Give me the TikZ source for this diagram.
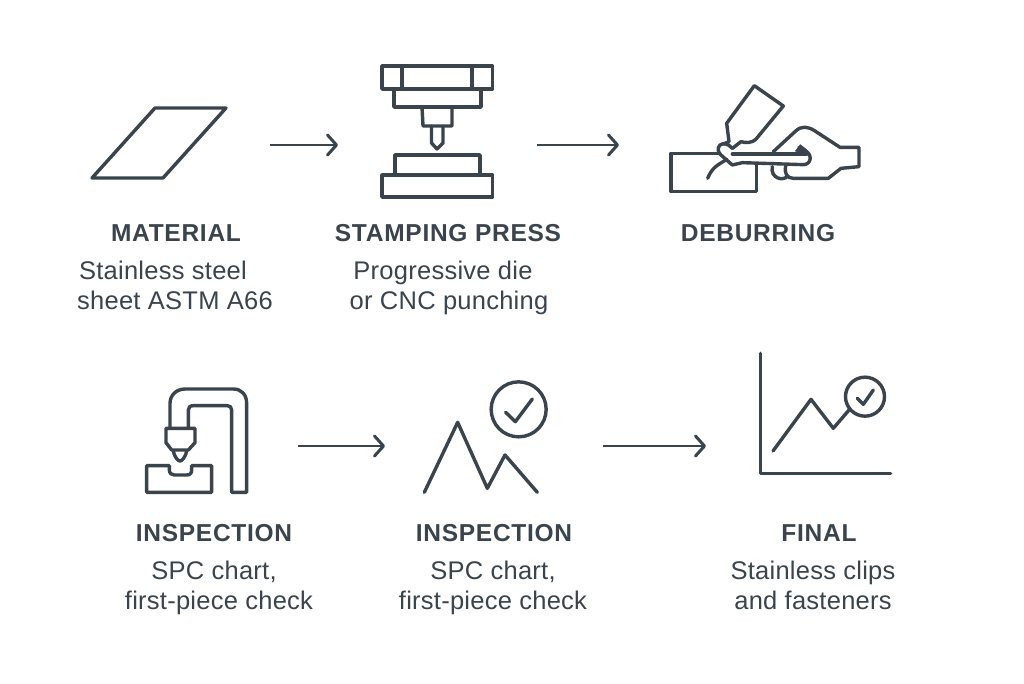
\documentclass[tikz,border=0pt]{standalone}
\usepackage{fontspec}
\setmainfont{Liberation Sans}
\newfontfamily\headfont[LetterSpace=3]{Liberation Sans}
\newfontfamily\bodyfont[LetterSpace=1]{Liberation Sans}
\usetikzlibrary{arrows.meta}
\definecolor{ink}{HTML}{3A444D}
\tikzset{
 icon/.style={draw=ink,line width=3.4pt,line join=round,line cap=round},
 flow/.style={draw=ink,line width=2.8pt,-{Straight Barb[round,length=9pt,width=20pt,line width=3pt]}},
 head/.style={text=ink,font=\fontsize{24.5}{26}\headfont\bfseries,inner sep=0pt,anchor=base},
 body/.style={text=ink,font=\fontsize{25.5}{28}\bodyfont,inner sep=0pt,anchor=base},
}
\begin{document}
\begin{tikzpicture}[x=1pt,y=-1pt]
\useasboundingbox (0,0) rectangle (1024,683);
\fill[white] (0,0) rectangle (1024,683);
% arrows
\coordinate (a1s) at (270,145); \coordinate (a1e) at (338,145);
\coordinate (a2s) at (537,145); \coordinate (a2e) at (619,145);
\coordinate (a3s) at (298,446); \coordinate (a3e) at (385,446);
\coordinate (a4s) at (603,446); \coordinate (a4e) at (706,446);
\draw[flow] (a1s) -- (a1e);
\draw[flow] (a2s) -- (a2e);
\draw[flow] (a3s) -- (a3e);
\draw[flow] (a4s) -- (a4e);
% material
\draw[icon] (92,178) -- (155,108) -- (226,108) -- (163,178) -- cycle;
% press
\draw[icon] (382,66) rectangle (492.5,89);
\draw[icon] (402,66) -- (402,89) (472,66) -- (472,89);
\draw[icon] (394,89) rectangle (481,107);
\draw[icon] (422,107) -- (423,126) -- (452,126) -- (452,107);
\draw[icon] (431.5,126) -- (431.5,143) -- (437,149) -- (443,143) -- (443,126);
\draw[icon] (395,175) -- (395,155) -- (480,155) -- (480,175);
\draw[icon] (382,175) rectangle (492.5,197);
% deburring
\begin{scope}[shift={(655,70)},x=0.3333pt,y=-0.3333pt]
\draw[icon] (195,250) -- (48,250) -- (48,365) -- (305,365) -- (305,285);
\draw[icon] (158,325) .. controls (172,290) and (190,285) .. (215,268);
\draw[icon] (205,222) -- (222,215) -- (215,160) -- (298,47) -- (385,108) -- (305,205) .. controls (290,222) and (270,218) .. (258,215) -- (232,235);
\draw[icon] (232,235) .. controls (218,220) and (205,218) .. (195,225) .. controls (185,235) and (190,248) .. (198,255) -- (232,285) -- (262,278) -- (445,284) .. controls (470,284) and (475,250) .. (445,240) -- (432,232);
\draw[icon] (232,252) -- (455,252);
\draw[ink,fill=ink,line width=1pt] (422,243) -- (436,225) -- (455,240) -- (462,252) -- cycle;
\draw[icon] (355,245) -- (420,185) .. controls (440,165) and (460,170) .. (480,183) -- (555,232) -- (612,232) -- (612,290) -- (558,295) -- (520,325) -- (415,325) .. controls (395,325) and (388,310) .. (392,288);
\draw[icon] (352,290) .. controls (345,325) and (385,335) .. (398,318);
\end{scope}
% inspection 1
\begin{scope}[shift={(130,375)},x=0.3333pt,y=-0.3333pt]
\draw[icon] (120,155) -- (120,85) .. controls (120,60) and (140,42) .. (165,42) -- (310,42) .. controls (335,42) and (350,60) .. (350,85) -- (350,352) -- (305,352) -- (305,105) .. controls (305,97) and (300,92) .. (292,92) -- (190,92) .. controls (180,92) and (175,97) .. (175,105) -- (175,155);
\draw[icon] (108,160) -- (195,160) -- (195,203) -- (175,225) -- (125,225) -- (108,203) -- cycle;
\draw[icon] (130,228) .. controls (135,250) and (145,258) .. (150,258) .. controls (155,258) and (165,250) .. (170,228);
\draw[icon] (50,272) -- (118,272) -- (118,285) .. controls (118,295) and (125,300) .. (133,300) -- (170,300) .. controls (180,300) and (185,295) .. (185,285) -- (185,272) -- (245,272) -- (245,352) -- (50,352) -- cycle;
\end{scope}
% inspection 2
\begin{scope}[shift={(410,375)},x=0.3333pt,y=-0.3333pt]
\draw[icon] (43,352) -- (143,142) -- (232,340) -- (285,240) -- (382,352);
\draw[icon] (326,103) circle[radius=27.5pt];
\draw[icon] (287,112) -- (316,140) -- (367,72);
\end{scope}
% final
\begin{scope}[shift={(745,345)},x=0.3333pt,y=-0.3333pt]
\draw[icon] (47,25) -- (47,385) -- (437,385);
\draw[icon] (84,318) -- (198,163) -- (265,250) -- (312,195);
\draw[icon] (360,155) circle[radius=19.5pt];
\draw[icon] (337,160) -- (355,178) -- (385,135);
\end{scope}
% labels
\node[head] (t1) at (176,241) {MATERIAL};
\node[body] (b1a) at (163,279) {Stainless steel};
\node[body] (b1b) at (175,309) {sheet ASTM A66};
\node[head] (t2) at (448,241) {STAMPING PRESS};
\node[body] (b2a) at (443,279) {Progressive die};
\node[body] (b2b) at (449,309) {or CNC punching};
\node[head] (t3) at (758,241) {DEBURRING};
\node[head] (t4) at (214,541) {INSPECTION};
\node[body] (b4a) at (214,579) {SPC chart,};
\node[body] (b4b) at (219,609) {first-piece check};
\node[head] (t5) at (494,541) {INSPECTION};
\node[body] (b5a) at (493,579) {SPC chart,};
\node[body] (b5b) at (493,609) {first-piece check};
\node[head] (t6) at (819,541) {FINAL};
\node[body] (b6a) at (813,579) {Stainless clips};
\node[body] (b6b) at (813,609) {and fasteners};
\end{tikzpicture}
\end{document}
